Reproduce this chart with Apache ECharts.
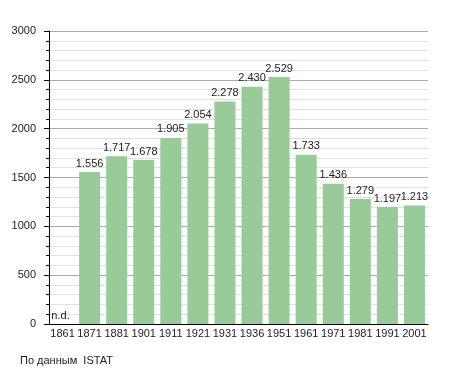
<!DOCTYPE html>
<html><head><meta charset="utf-8">
<script src="https://cdn.jsdelivr.net/npm/echarts@6/dist/echarts.min.js"></script>
<style>html,body{margin:0;padding:0;background:#fff}#c{width:455px;height:373px}</style>
</head><body><div id="c"></div>
<script>
const years = ['1861','1871','1881','1901','1911','1921','1931','1936','1951','1961','1971','1981','1991','2001'];
const population = [null,1556,1717,1678,1905,2054,2278,2430,2529,1733,1436,1279,1197,1213];
const yTicks = [0,500,1000,1500,2000,2500,3000];
const missingLabel = 'n.d.';
const sourceText = 'По данным  ISTAT';

const fmt = v => { const s = String(v); return s.length > 3 ? s.slice(0, s.length-3) + '.' + s.slice(-3) : s; };
const font = 'Liberation Sans, Arial, sans-serif';
const chart = echarts.init(document.getElementById('c'));
chart.setOption({
  animation: false,
  textStyle: {fontFamily: font},
  graphic: [{type:'text', left: 20, top: 355, style:{text: sourceText, font: '11px ' + font, fill:'#222'}}],
  grid: {left: 49, top: 31, width: 379, height: 293, containLabel: false},
  xAxis: {
    type: 'category', data: years,
    axisLine: {lineStyle: {color: '#000', width: 1}},
    axisTick: {show: false},
    axisLabel: {color: '#222', fontSize: 11, margin: 4, fontFamily: font, interval: 0}
  },
  yAxis: {
    type: 'value', min: 0, max: 3000, interval: 500,
    axisLine: {show: true, lineStyle: {color: '#000', width: 1}},
    axisTick: {show: true, length: 5, lineStyle: {color: '#000'}},
    minorTick: {show: true, splitNumber: 5, length: 3, lineStyle: {color: '#000'}},
    splitLine: {show: true, lineStyle: {color: '#aaa', width: 1}},
    minorSplitLine: {show: true, lineStyle: {color: '#e0e0e0', width: 1}},
    axisLabel: {color: '#222', fontSize: 11, margin: 13, fontFamily: font,
      formatter: v => yTicks.includes(v) ? String(v) : ''}
  },
  series: [{
    type: 'bar', barWidth: 21,
    data: population.map(v => v === null ? {value: 0, label: {formatter: missingLabel, offset: [-2, 0]}} : v),
    itemStyle: {color: '#98cb98'},
    label: {show: true, position: 'top', distance: 3, color: '#222', fontSize: 11, fontFamily: font,
      formatter: p => fmt(p.value)}
  }]
});
</script></body></html>
